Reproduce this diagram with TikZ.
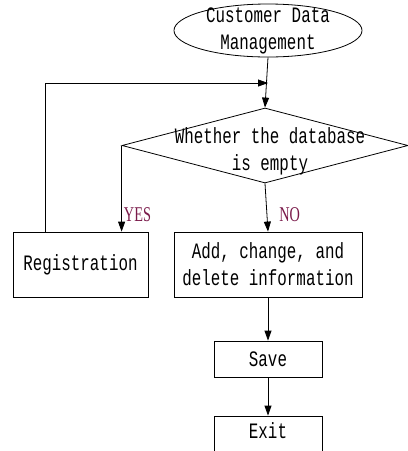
\documentclass[tikz,border=0pt]{standalone}
\usepackage{fontspec}
\usetikzlibrary{shapes.geometric,arrows.meta}
\newfontfamily\cf[FakeStretch=0.72]{Liberation Mono}
\newfontfamily\lf[FakeStretch=0.68]{Liberation Serif}
\definecolor{lbl}{HTML}{7A1A4A}
\begin{document}
\begin{tikzpicture}[x=1pt,y=-1pt,
  every node/.style={font=\cf\fontsize{22}{27}\selectfont,align=center},
  box/.style={draw,line width=0.8pt,inner sep=0pt},
  arr/.style={line width=0.8pt,-{Triangle[length=10pt,width=7pt]}},
  lab/.style={text=lbl,anchor=west,inner sep=0pt,font=\lf\fontsize{21}{24}\selectfont}]
\useasboundingbox (0,0) rectangle (408,451);
\node[box,ellipse,minimum width=188pt,minimum height=53pt] (start) at (268,30.5) {};
\node at (268,31) {Customer Data\\Management};
\node[box,diamond,aspect=3.81,minimum width=286pt,minimum height=75pt] (dec) at (265,145.5) {};
\node at (270,151) {Whether the database\\is empty};
\node[box,minimum width=135pt,minimum height=65pt] (reg) at (80.5,264.5) {Registration};
\node[box,minimum width=188pt,minimum height=65pt] (add) at (268,264.5) {Add, change, and\\delete information};
\node[box,minimum width=108pt,minimum height=36pt] (save) at (268,359) {Save};
\node[box,minimum width=108pt,minimum height=50pt,text depth=20pt] (exit) at (268,441) {Exit};
\coordinate (join) at (268,83);
\draw[arr] (start.south) -- (dec.north);
\draw[arr] (reg.north -| 45,0) |- (join);
\draw[arr] (dec.west) -- (dec.west |- reg.north) node[lab,pos=0.8,xshift=2pt] {YES};
\draw[arr] (dec.south) -- (add.north) node[lab,pos=0.65,xshift=12pt] {NO};
\draw[arr] (add.south) -- (save.north);
\draw[arr] (save.south) -- (exit.north);
\end{tikzpicture}
\end{document}
